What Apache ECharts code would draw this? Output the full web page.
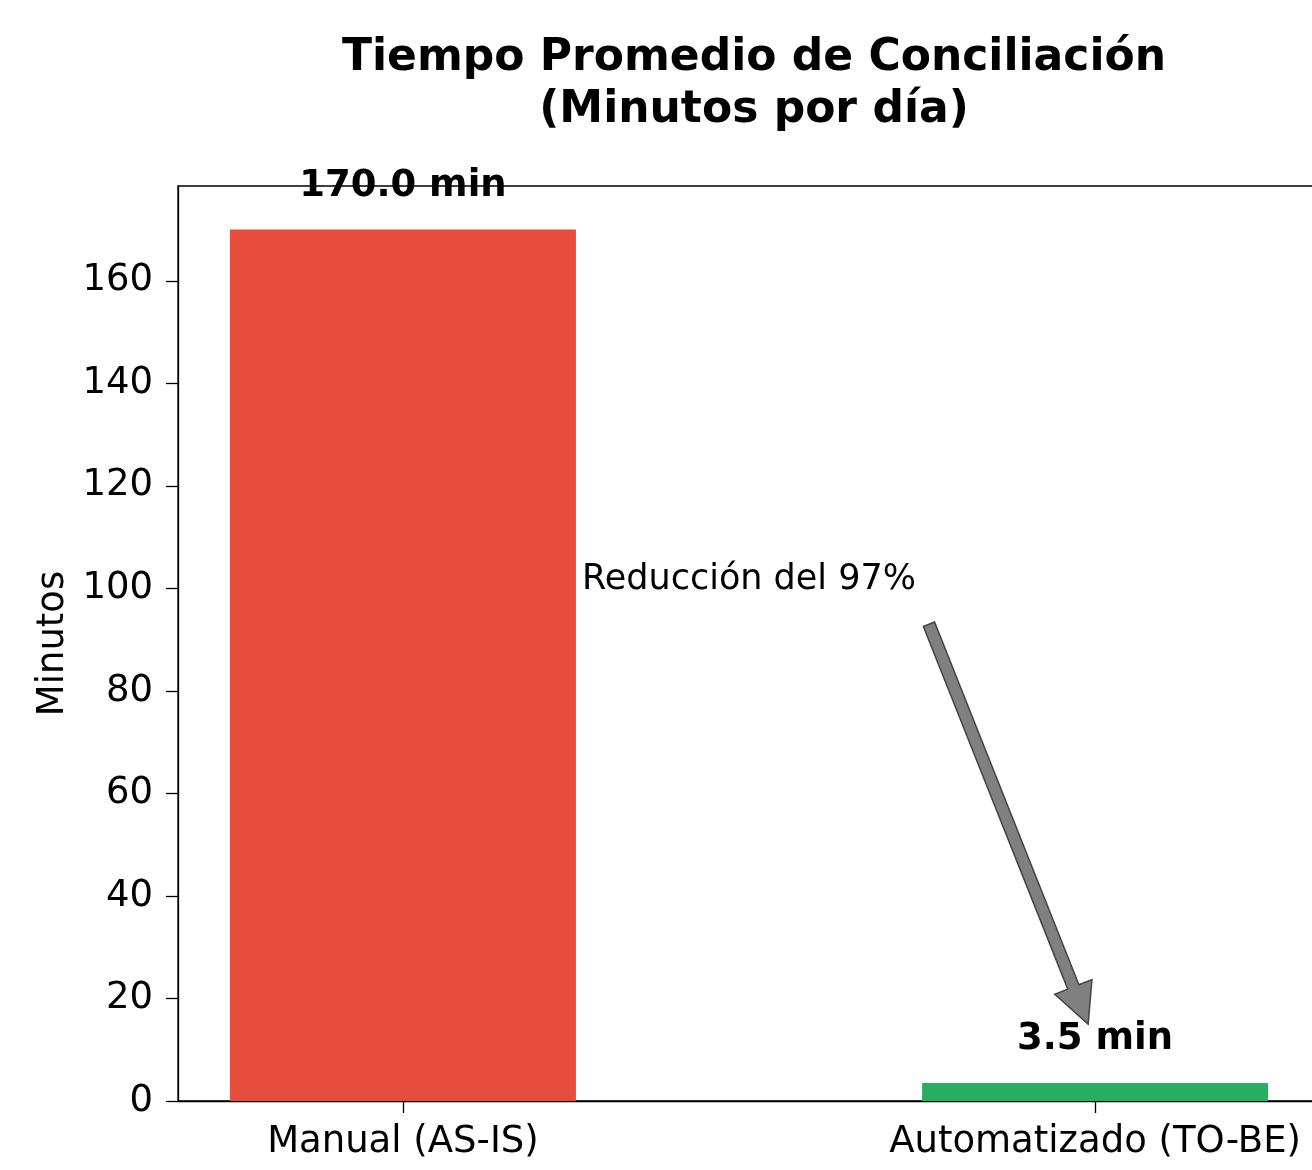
<!DOCTYPE html>
<html>
<head>
    <meta charset="utf-8">
    <title>Tiempo Promedio de Conciliación</title>
    <script src="https://cdn.jsdelivr.net/npm/echarts@6.0.0/dist/echarts.min.js"></script>
    <style>
        html, body { margin: 0; background: #fff; overflow: hidden; }
    </style>
</head>
<body>
    <!-- wider than the window: the right spine falls just outside, as in the source -->
    <div id="main" style="width: 1340px;height:1170px;"></div>
    <script type="text/javascript">
        // chart data
        const categories = ['Manual (AS-IS)', 'Automatizado (TO-BE)'];
        const minutes = [170.0, 3.5];
        const barColors = ['#e74c3c', '#27ae60'];
        const yTicks = [0, 20, 40, 60, 80, 100, 120, 140, 160];
        const note = 'Reducción del 97%';
        const noteAt = [0.5, 100];
        const arrowFrom = [0.76, 93];
        const arrowTo = [0.99, 15];

        const font = 'DejaVu Sans';
        const myChart = echarts.init(document.getElementById('main'));

        const options = {
            backgroundColor: '#fff',
            animation: false,
            title: {
                text: 'Tiempo Promedio de Conciliación\n(Minutos por día)',
                left: 749,
                top: 28,
                textAlign: 'center',
                textStyle: {
                    fontFamily: font,
                    fontSize: 44,
                    fontWeight: 'bold',
                    lineHeight: 52,
                    color: '#000'
                }
            },
            grid: {
                left: 178,
                top: 186,
                width: 1142,
                height: 915,
                show: true,
                borderColor: '#000',
                borderWidth: 1.3,
                backgroundColor: 'transparent'
            },
            xAxis: {
                type: 'value',
                min: -0.325,
                max: 1.325,
                splitLine: { show: false },
                axisLine: { show: true, onZero: false, lineStyle: { color: '#000', width: 1.3 } },
                axisTick: { show: true, length: 12, customValues: [0, 1], lineStyle: { color: '#000', width: 1.3 } },
                axisLabel: {
                    customValues: [0, 1],
                    formatter: v => categories[Math.round(v)],
                    fontFamily: font,
                    fontSize: 37,
                    color: '#000',
                    margin: 23
                }
            },
            yAxis: {
                type: 'value',
                min: 0,
                max: 178.5,
                name: 'Minutos',
                nameLocation: 'middle',
                nameRotate: 90,
                nameGap: 102,
                nameTextStyle: { fontFamily: font, fontSize: 37, color: '#000' },
                splitLine: { show: false },
                axisLine: { show: true, onZero: false, lineStyle: { color: '#000', width: 1.3 } },
                axisTick: { show: true, length: 12, customValues: yTicks, lineStyle: { color: '#000', width: 1.3 } },
                axisLabel: {
                    customValues: yTicks,
                    fontFamily: font,
                    fontSize: 37,
                    color: '#000',
                    margin: 25
                }
            },
            series: [{
                type: 'bar',
                barWidth: 346,
                data: minutes.map((v, i) => ({
                    value: [i, v],
                    itemStyle: { color: barColors[i] }
                })),
                label: {
                    show: true,
                    position: 'top',
                    distance: 25,
                    formatter: p => p.value[1].toFixed(1) + ' min',
                    fontFamily: font,
                    fontSize: 37,
                    lineHeight: 37,
                    fontWeight: 'bold',
                    color: '#000'
                }
            }]
        };

        myChart.setOption(options);

        function arrowShape(p0, p1) {
            const dx = p1[0] - p0[0], dy = p1[1] - p0[1];
            const len = Math.sqrt(dx * dx + dy * dy);
            const ux = dx / len, uy = dy / len;
            const nx = -uy, ny = ux;
            const shaft = 6, head = 20, headLen = 40;
            const bx = p1[0] - ux * headLen, by = p1[1] - uy * headLen;
            return [
                [p0[0] + nx * shaft, p0[1] + ny * shaft],
                [bx + nx * shaft, by + ny * shaft],
                [bx + nx * head, by + ny * head],
                [p1[0], p1[1]],
                [bx - nx * head, by - ny * head],
                [bx - nx * shaft, by - ny * shaft],
                [p0[0] - nx * shaft, p0[1] - ny * shaft]
            ];
        }

        const notePx = myChart.convertToPixel({ gridIndex: 0 }, noteAt);
        const fromPx = myChart.convertToPixel({ gridIndex: 0 }, arrowFrom);
        const toPx = myChart.convertToPixel({ gridIndex: 0 }, arrowTo);

        myChart.setOption({
            graphic: [{
                type: 'text',
                x: notePx[0],
                y: notePx[1] + 9,
                style: {
                    text: note,
                    fontFamily: font,
                    fontSize: 35,
                    fill: '#000',
                    align: 'center',
                    verticalAlign: 'bottom'
                }
            }, {
                type: 'polygon',
                shape: { points: arrowShape(fromPx, toPx) },
                style: { fill: '#808080', stroke: '#444', lineWidth: 1.5 }
            }]
        });
    </script>
</body>
</html>
